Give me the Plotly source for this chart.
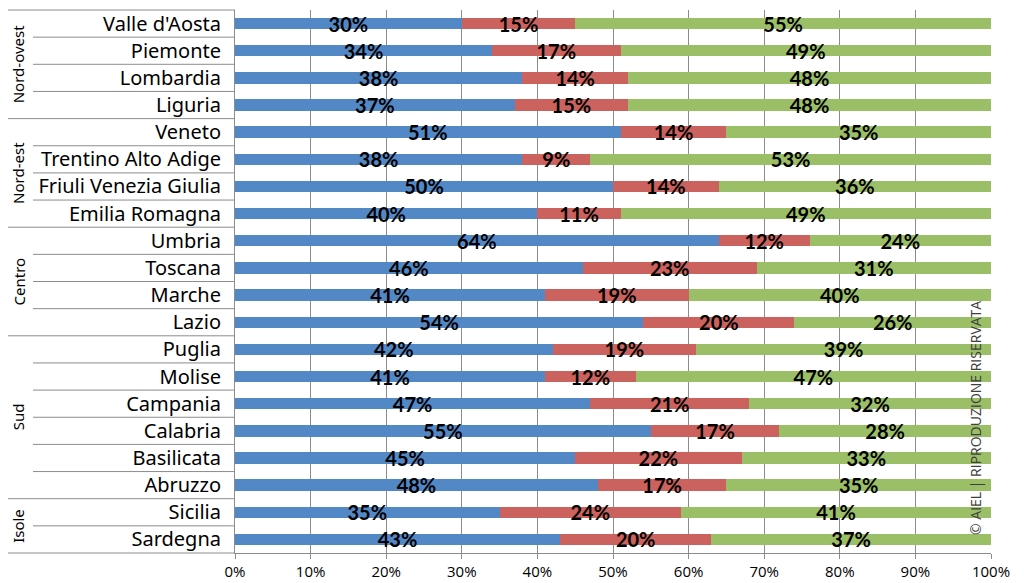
import plotly.graph_objects as go

regions = ["Valle d'Aosta", "Piemonte", "Lombardia", "Liguria",
           "Veneto", "Trentino Alto Adige", "Friuli Venezia Giulia", "Emilia Romagna",
           "Umbria", "Toscana", "Marche", "Lazio",
           "Puglia", "Molise", "Campania", "Calabria", "Basilicata", "Abruzzo",
           "Sicilia", "Sardegna"]
groups = ["Nord-ovest", "Nord-est", "Centro", "Sud", "Isole"]
group_sizes = [4, 4, 4, 6, 2]

blue = [30, 34, 38, 37, 51, 38, 50, 40, 64, 46, 41, 54, 42, 41, 47, 55, 45, 48, 35, 43]
red = [15, 17, 14, 15, 14, 9, 14, 11, 12, 23, 19, 20, 19, 12, 21, 17, 22, 17, 24, 20]
green = [55, 49, 48, 48, 35, 53, 36, 49, 24, 31, 40, 26, 39, 47, 32, 28, 33, 35, 41, 37]

tick_vals = [0, 10, 20, 30, 40, 50, 60, 70, 80, 90, 100]
tick_text = ["0%", "10%", "20%", "30%", "40%", "50%", "60%", "70%", "80%", "90%", "100%"]

colors = ["#5388C6", "#CB625D", "#9BBF66"]

fig = go.Figure()
for vals, col in zip([blue, red, green], colors):
    fig.add_trace(go.Bar(
        y=regions, x=vals, orientation="h",
        marker=dict(color=col, line=dict(width=0)),
        width=0.42,
        text=[f"{v}%" for v in vals],
        textposition="inside", insidetextanchor="middle",
        constraintext="none",
        textfont=dict(family="Lato", size=20, color="#000000", weight="bold"),
        cliponaxis=False,
        showlegend=False,
    ))

grid_col = "#8C8C8C"
OFF = 8  # page body margin
W, H = 1024 - OFF, 583 - OFF
L, R, T, B = 235 - OFF, 33, 10 - OFF, 30
pw = W - L - R
ph = H - T - B

def px_to_paper_x(px):
    return (px - OFF - L) / pw

def px_to_paper_y(py):
    return (H - B - (py - OFF)) / ph

x_outer = px_to_paper_x(7)
x_inner = px_to_paper_x(33)

n = len(regions)
shapes = []
shapes.append(dict(type="line", xref="paper", yref="paper", x0=x_outer, x1=0, y0=1, y1=1,
                   line=dict(color=grid_col, width=1)))
shapes.append(dict(type="line", xref="paper", yref="paper", x0=x_outer, x1=0, y0=0, y1=0,
                   line=dict(color=grid_col, width=1)))
shapes.append(dict(type="line", xref="paper", yref="paper", x0=x_outer, x1=x_outer, y0=0, y1=1,
                   line=dict(color=grid_col, width=1)))
group_ends = []
acc = 0
for s in group_sizes:
    acc += s
    group_ends.append(acc)
for k in range(1, n):
    yp = 1 - k / n
    x0 = x_outer if k in group_ends else x_inner
    shapes.append(dict(type="line", xref="paper", yref="paper", x0=x0, x1=0, y0=yp, y1=yp,
                       line=dict(color=grid_col, width=1)))

annotations = []
start = 0
for g, s in zip(groups, group_sizes):
    center = 1 - (start + s / 2) / n
    annotations.append(dict(text=g, xref="paper", yref="paper", x=px_to_paper_x(18), y=center,
                            textangle=-90, showarrow=False, xanchor="center", yanchor="middle",
                            font=dict(family="Noto Sans", size=15, color="#000000")))
    start += s

annotations.append(dict(text="© AIEL | RIPRODUZIONE RISERVATA", xref="paper", yref="paper",
                        x=px_to_paper_x(975), y=px_to_paper_y(418),
                        textangle=-90, showarrow=False, xanchor="center", yanchor="middle",
                        font=dict(family="Open Sans", size=14, color="#404040")))

fig.update_layout(
    barmode="stack",
    width=W, height=H,
    margin=dict(l=L, r=R, t=T, b=B, pad=0),
    paper_bgcolor="white", plot_bgcolor="white",
    shapes=shapes, annotations=annotations,
    xaxis=dict(range=[0, 100], tickvals=tick_vals, ticktext=tick_text,
               showgrid=True, gridcolor=grid_col, gridwidth=1,
               showline=True, linecolor=grid_col, linewidth=1,
               ticks="outside", ticklen=5, tickcolor=grid_col,
               tickfont=dict(family="Open Sans", size=15, color="#000000"),
               zeroline=False, fixedrange=True),
    yaxis=dict(autorange="reversed", type="category",
               showline=True, linecolor=grid_col, linewidth=1,
               showgrid=False, ticks="", ticklabelstandoff=9,
               tickfont=dict(family="Noto Sans", size=20, color="#000000"),
               fixedrange=True),
)

fig.write_html("out.html")
